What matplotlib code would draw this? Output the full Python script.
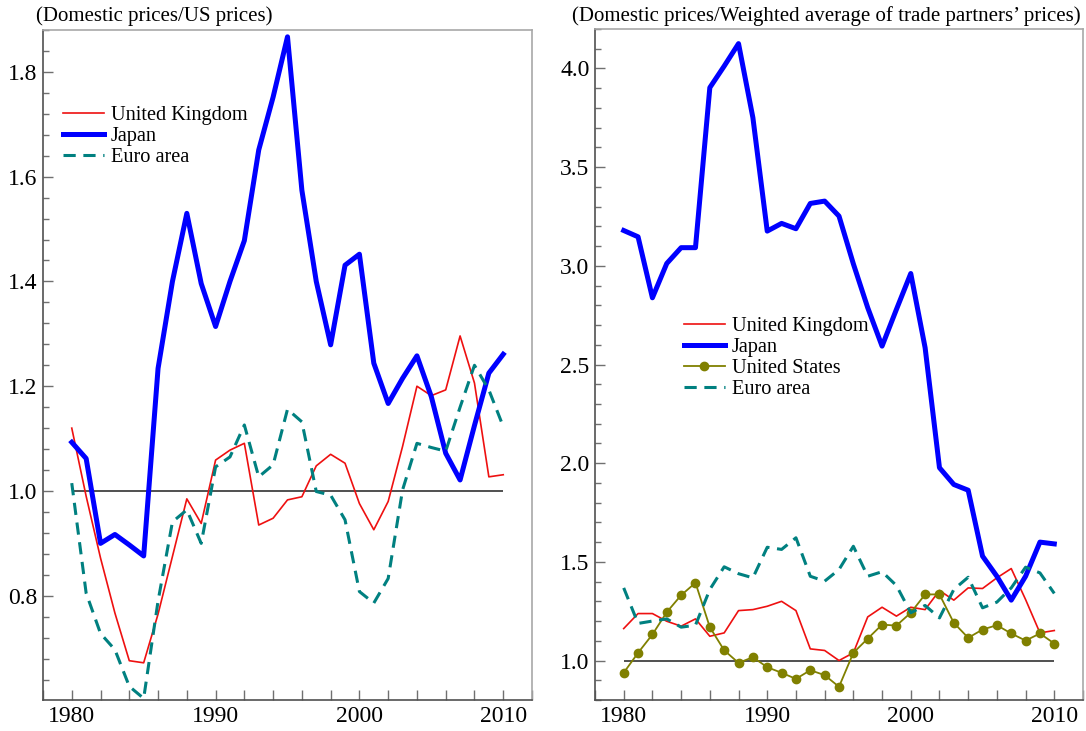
import numpy as np
import matplotlib.pyplot as plt
from matplotlib.ticker import MultipleLocator

plt.rcParams['font.family'] = ['Liberation Serif', 'DejaVu Serif']

years = np.arange(1980, 2011)

# relative to US prices
uk_us = [1.12, 0.99, 0.872, 0.767, 0.676, 0.672, 0.765, 0.875, 0.985, 0.938,
         1.059, 1.078, 1.091, 0.935, 0.948, 0.983, 0.989, 1.048, 1.070, 1.053,
         0.976, 0.926, 0.980, 1.085, 1.200, 1.182, 1.193, 1.296, 1.206, 1.027, 1.031]
jp_us = [1.093, 1.062, 0.900, 0.917, 0.897, 0.876, 1.234, 1.400, 1.530, 1.396,
         1.314, 1.400, 1.478, 1.651, 1.752, 1.867, 1.574, 1.400, 1.279, 1.431,
         1.452, 1.244, 1.167, 1.215, 1.258, 1.180, 1.072, 1.021, 1.125, 1.225, 1.261]
ea_us = [1.015, 0.805, 0.728, 0.697, 0.627, 0.604, 0.790, 0.941, 0.964, 0.900,
         1.046, 1.065, 1.126, 1.027, 1.050, 1.156, 1.132, 0.999, 0.992, 0.945,
         0.808, 0.786, 0.833, 1.002, 1.091, 1.083, 1.076, 1.160, 1.240, 1.193, 1.123]

# relative to trade-weighted partner prices
uk_tw = [1.162, 1.238, 1.238, 1.199, 1.174, 1.211, 1.123, 1.140, 1.253, 1.258,
         1.275, 1.300, 1.253, 1.059, 1.051, 1.000, 1.039, 1.221, 1.270, 1.225,
         1.270, 1.258, 1.355, 1.306, 1.368, 1.365, 1.419, 1.466, 1.309, 1.140, 1.152]
jp_tw = [3.179, 3.147, 2.838, 3.012, 3.092, 3.092, 3.903, 4.012, 4.126, 3.751,
         3.176, 3.215, 3.188, 3.316, 3.328, 3.252, 3.010, 2.788, 2.593, 2.779,
         2.961, 2.585, 1.977, 1.892, 1.863, 1.529, 1.427, 1.306, 1.427, 1.600, 1.591]
us_tw = [0.938, 1.039, 1.132, 1.245, 1.331, 1.394, 1.169, 1.052, 0.988, 1.017,
         0.966, 0.938, 0.907, 0.951, 0.926, 0.867, 1.039, 1.111, 1.182, 1.177,
         1.242, 1.335, 1.335, 1.191, 1.115, 1.157, 1.179, 1.137, 1.101, 1.137, 1.086]
ea_tw = [1.368, 1.188, 1.200, 1.211, 1.169, 1.179, 1.360, 1.475, 1.440, 1.419,
         1.574, 1.563, 1.622, 1.427, 1.402, 1.461, 1.579, 1.427, 1.450, 1.380,
         1.242, 1.279, 1.216, 1.360, 1.422, 1.267, 1.296, 1.368, 1.473, 1.444, 1.340]

W, H = 1086, 731
fig = plt.figure(figsize=(W / 100, H / 100), dpi=100)
ax1 = fig.add_axes([43 / W, 1 - 700 / H, 489 / W, 670 / H])
ax2 = fig.add_axes([595 / W, 1 - 700 / H, 488 / W, 671 / H])


def style(ax, ymaj, ymin):
    ax.set_xlim(1978, 2012)
    ax.xaxis.set_major_locator(MultipleLocator(10))
    ax.xaxis.set_minor_locator(MultipleLocator(2))
    ax.yaxis.set_major_locator(MultipleLocator(ymaj))
    ax.yaxis.set_minor_locator(MultipleLocator(ymin))
    ax.yaxis.set_major_formatter(lambda v, p: f'{v:.1f}')
    ax.tick_params(which='both', direction='in', color='#707070', width=1,
                   labelsize=17)
    ax.tick_params(axis='x', which='both', length=7, pad=4)
    ax.tick_params(axis='y', which='major', length=7, pad=4)
    ax.tick_params(axis='y', which='minor', length=4)
    for s in ['left', 'bottom']:
        ax.spines[s].set_color('#505050')
        ax.spines[s].set_linewidth(1.2)
    for s in ['top', 'right']:
        ax.spines[s].set_color('#a8a8a8')
        ax.spines[s].set_linewidth(1.2)


def add_legend(ax, x, y):
    ax.legend(loc='upper left', bbox_to_anchor=(x / W, 1 - y / H),
              bbox_transform=fig.transFigure, frameon=False, fontsize=14.6,
              borderpad=0, borderaxespad=0, handlelength=2.0,
              handletextpad=0.35, labelspacing=0.08)


# left panel
ax1.hlines(1.0, years[0], years[-1], color='#202020', lw=1.1, zorder=1)
ax1.plot(years, uk_us, color='#ee1010', lw=1.2, label='United Kingdom')
ax1.plot(years, jp_us, color='#0000ff', lw=3.6, label='Japan')
ax1.plot(years, ea_us, color='#008080', lw=2.2, dashes=(4, 2.5), label='Euro area')
ax1.set_ylim(0.601, 1.88)
style(ax1, 0.2, 0.04)
add_legend(ax1, 63, 106)

# right panel
ax2.hlines(1.0, years[0], years[-1], color='#202020', lw=1.1, zorder=1)
ax2.plot(years, uk_tw, color='#ee1010', lw=1.2, label='United Kingdom')
ax2.plot(years, jp_tw, color='#0000ff', lw=3.6, label='Japan')
ax2.plot(years, us_tw, color='#808000', lw=1.3, marker='o', markersize=6,
         label='United States')
ax2.plot(years, ea_tw, color='#008080', lw=2.2, dashes=(4, 2.5), label='Euro area')
ax2.set_ylim(0.80, 4.20)
style(ax2, 0.5, 0.1)
add_legend(ax2, 684, 317)

fig.text(36 / W, 1 - 16 / H, '(Domestic prices/US prices)', fontsize=15,
         va='center', ha='left')
fig.text(572 / W, 1 - 16 / H,
         '(Domestic prices/Weighted average of trade partners\u2019 prices)',
         fontsize=15, va='center', ha='left')

fig.savefig('out.png', dpi=100)
